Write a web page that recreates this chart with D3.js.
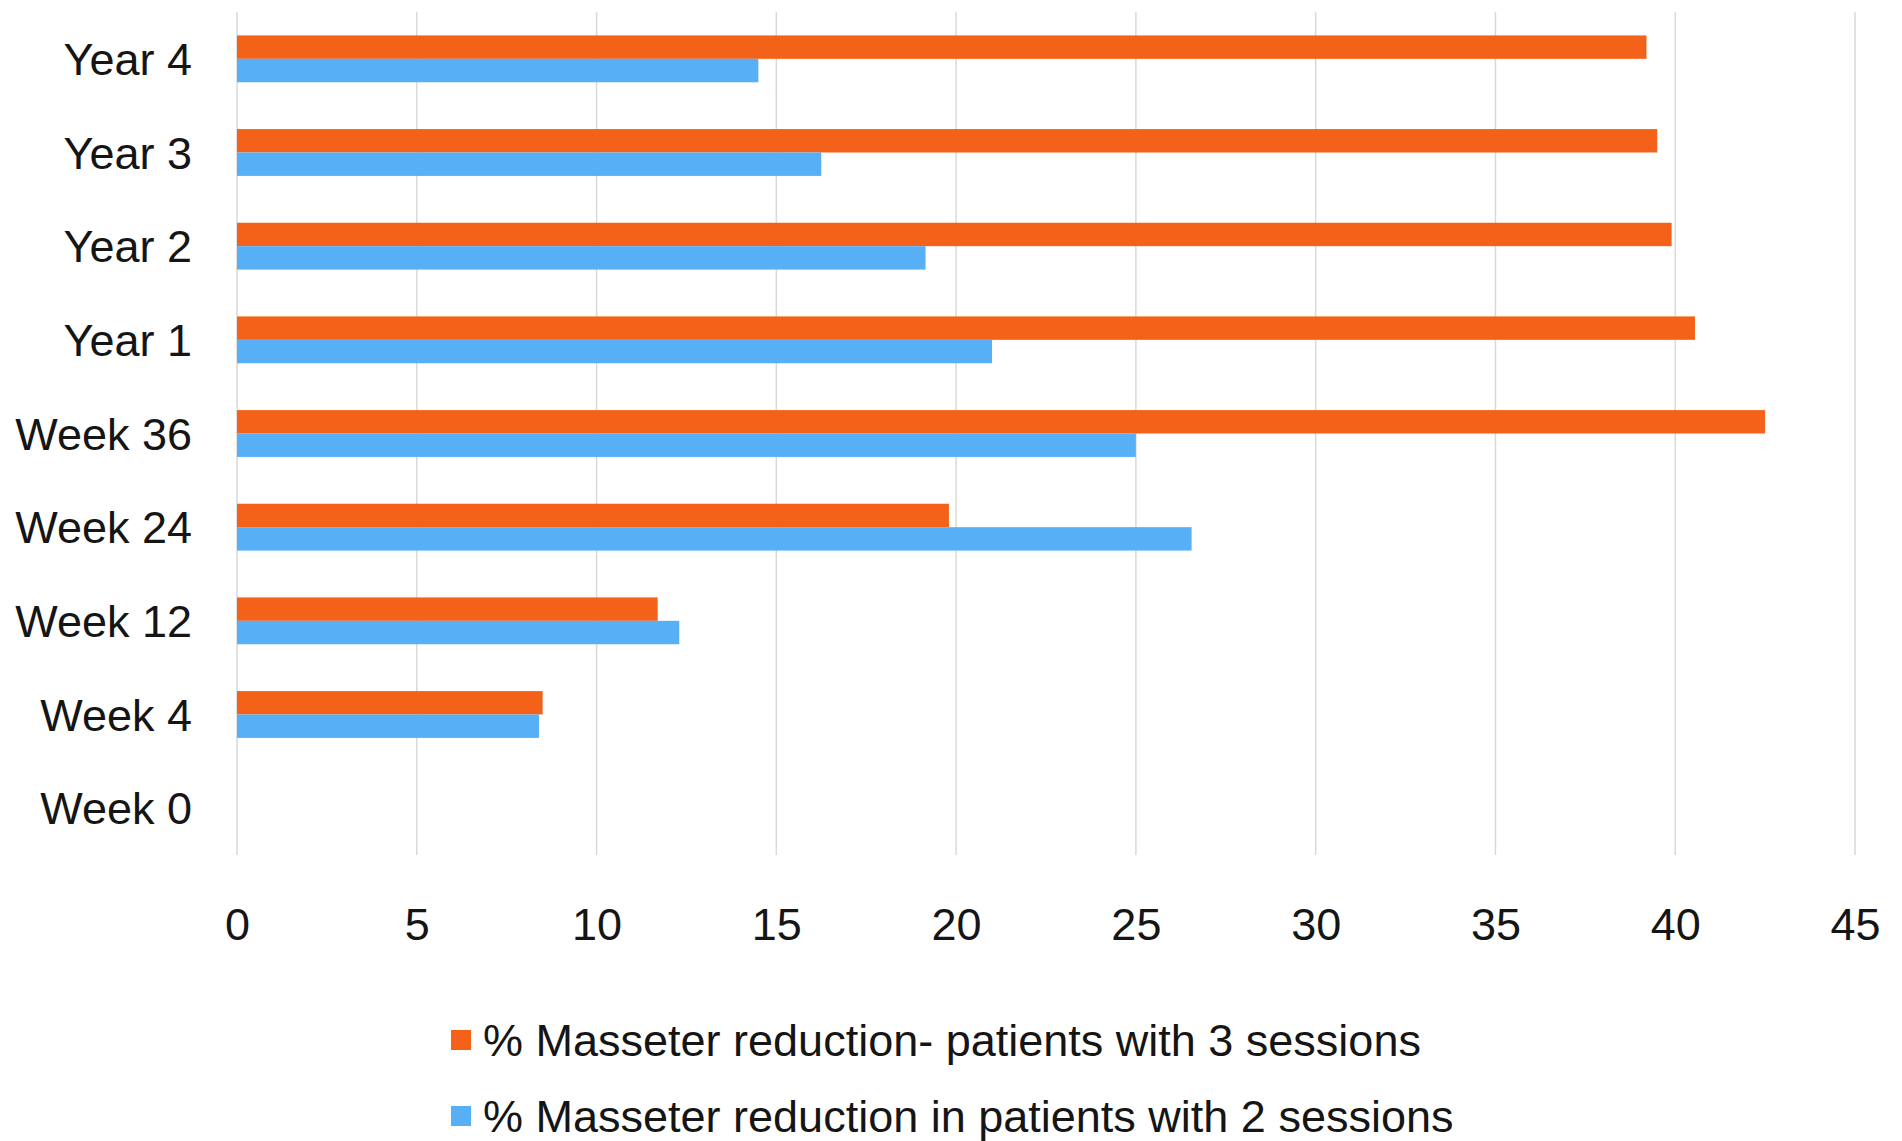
<!DOCTYPE html>
<html>
<head>
<meta charset="utf-8">
<script src="https://cdn.jsdelivr.net/npm/d3@7"></script>
<style>
    body { margin: 0; background: #fff; }
    text { font-family: "Liberation Sans", Arial, sans-serif; fill: #151515; }
    .grid line { stroke: #d9d9d9; stroke-width: 1.5; }
</style>
</head>
<body>
<svg id="barChart" width="1902" height="1141"></svg>
<script>
"use strict";

const width = 1902;
const height = 1141;
const margin = { top: 12, right: 47, bottom: 286, left: 237 };
const innerWidth = width - margin.left - margin.right;
const innerHeight = height - margin.top - margin.bottom;
const fontSize = 45;

// categories from top to bottom
const categories = ["Year 4", "Year 3", "Year 2", "Year 1", "Week 36", "Week 24", "Week 12", "Week 4", "Week 0"];
const seriesNames = [
    "% Masseter reduction- patients with 3 sessions",
    "% Masseter reduction in patients with 2 sessions"
];
const threeSessions = [39.2, 39.5, 39.9, 40.55, 42.5, 19.8, 11.7, 8.5, 0];
const twoSessions = [14.5, 16.25, 19.15, 21.0, 25.0, 26.55, 12.3, 8.4, 0];
const xTicks = [0, 5, 10, 15, 20, 25, 30, 35, 40, 45];
const colors = ["#f4621a", "#57b0f6"];

const svg = d3.select("svg#barChart");
const plot = svg.append("g")
    .attr("transform", `translate(${margin.left},${margin.top})`);

const xScale = d3.scaleLinear().domain([0, 45]).range([0, innerWidth]);
const yScale = d3.scaleBand()
    .domain(categories)
    .range([0, innerHeight])
    .paddingInner(0.5)
    .paddingOuter(0.25);
const seriesScale = d3.scaleBand()
    .domain([0, 1])
    .range([0, yScale.bandwidth()]);

// vertical gridlines
plot.append("g")
    .attr("class", "grid")
    .selectAll("line")
    .data(xTicks)
    .enter()
    .append("line")
    .attr("x1", d => xScale(d))
    .attr("x2", d => xScale(d))
    .attr("y1", 0)
    .attr("y2", innerHeight);

// x axis labels
const xAxis = d3.axisBottom(xScale).tickValues(xTicks).tickSize(0).tickPadding(53);
const xg = plot.append("g")
    .attr("transform", `translate(0,${innerHeight})`)
    .call(xAxis);
xg.select(".domain").remove();
xg.attr("font-size", null).attr("font-family", null);
xg.selectAll("text").attr("font-size", fontSize).attr("fill", "#151515");

// y axis labels
const yAxis = d3.axisLeft(yScale).tickSize(0).tickPadding(45);
const yg = plot.append("g").call(yAxis);
yg.select(".domain").remove();
yg.attr("font-size", null).attr("font-family", null);
yg.selectAll("text").attr("font-size", fontSize).attr("fill", "#151515").attr("dy", "0.36em");

// bars
const rows = categories.map((c, i) => ({ cat: c, values: [threeSessions[i], twoSessions[i]] }));
const groups = plot.selectAll("g.row")
    .data(rows)
    .enter()
    .append("g")
    .attr("class", "row")
    .attr("transform", d => `translate(0,${yScale(d.cat)})`);
groups.selectAll("rect")
    .data(d => d.values.map((v, s) => ({ v, s })))
    .enter()
    .append("rect")
    .attr("x", xScale(0))
    .attr("y", d => seriesScale(d.s))
    .attr("width", d => xScale(d.v) - xScale(0))
    .attr("height", seriesScale.bandwidth())
    .attr("fill", d => colors[d.s]);

// legend
const legend = svg.append("g")
    .attr("transform", `translate(451,1040)`);
const legendItems = legend.selectAll("g")
    .data(seriesNames)
    .enter()
    .append("g")
    .attr("transform", (d, i) => `translate(0,${i * 76})`);
legendItems.append("rect")
    .attr("x", 0)
    .attr("y", -10)
    .attr("width", 20)
    .attr("height", 20)
    .attr("fill", (d, i) => colors[i]);
legendItems.append("text")
    .attr("x", 32)
    .attr("dy", "0.36em")
    .attr("font-size", fontSize)
    .text(d => d);
</script>
</body>
</html>
